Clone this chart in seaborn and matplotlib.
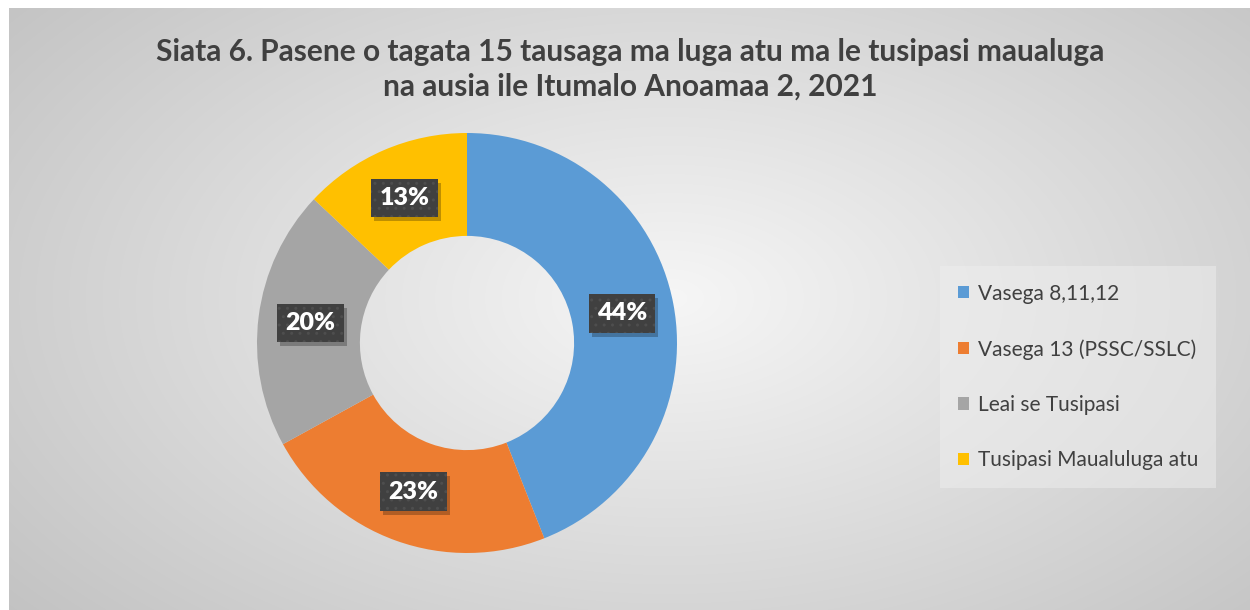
import numpy as np
import matplotlib
matplotlib.use("Agg")
import matplotlib.pyplot as plt
import matplotlib.transforms as mtransforms
from matplotlib.patches import Patch, Rectangle
import seaborn as sns

# data
categories = ["Vasega 8,11,12", "Vasega 13 (PSSC/SSLC)", "Leai se Tusipasi",
              "Tusipasi Maualuluga atu"]
shares = [44, 23, 20, 13]
colors = ["#5B9BD5", "#ED7D31", "#A5A5A5", "#FFC000"]
title = ("Siata 6. Pasene o tagata 15 tausaga ma luga atu ma le tusipasi maualuga\n"
         "na ausia ile Itumalo Anoamaa 2, 2021")

sns.set_theme(style="white")
plt.rcParams["font.family"] = ["Lato", "DejaVu Sans"]

W, H = 1250, 610
fig = plt.figure(figsize=(W / 100, H / 100), dpi=100)
fig.patch.set_facecolor("white")

# radial grey gradient background of the chart area
bg = fig.add_axes([9 / W, 0, 1 - 9 / W, (H - 8) / H])
yy, xx = np.mgrid[0:602, 0:1241]
d = np.sqrt(((xx - 660) / 700.0) ** 2 + ((yy - 290) / 400.0) ** 2)
shade = np.clip(0.965 - 0.165 * d, 0, 1)
bg.imshow(np.dstack([shade] * 3), aspect="auto", interpolation="bilinear")
bg.set_axis_off()

# donut
cx, cy, r = 467, 343, 210
ax = fig.add_axes([(cx - r) / W, (H - cy - r) / H, 2 * r / W, 2 * r / H])
pal = sns.color_palette(colors)
wedges, texts, autotexts = ax.pie(
    shares, colors=pal, startangle=90, counterclock=False,
    autopct="%1.0f%%", pctdistance=0.752,
    wedgeprops=dict(width=0.49, linewidth=0),
)
ax.set_xlim(-1, 1)
ax.set_ylim(-1, 1)
ax.set_aspect("equal")
ax.set_axis_off()

for t in autotexts:
    t.set_color("white")
    t.set_fontsize(18)
    t.set_fontweight("heavy")
    t.set_zorder(5)
    t.set_bbox(dict(boxstyle="square,pad=0.33", facecolor="#404040",
                    edgecolor="#4e4e4e", linewidth=0, hatch=".."))

# soft drop shadow behind each label box
fig.canvas.draw()
for t in autotexts:
    ext = t.get_bbox_patch().get_window_extent()
    ax.add_patch(Rectangle((ext.x0 + 3, ext.y0 - 4), ext.width, ext.height,
                           transform=mtransforms.IdentityTransform(),
                           facecolor="black", alpha=0.25, linewidth=0,
                           zorder=4, clip_on=False))

fig.text(0.504, 1 - 69 / H, title, ha="center", va="center", fontsize=21.5,
         fontweight="bold", color="#404040", linespacing=1.3)

handles = [Patch(facecolor=c, edgecolor="none") for c in colors]
leg = fig.legend(handles, categories, loc="center left",
                 bbox_to_anchor=(940 / W, 1 - 377 / H), frameon=True,
                 fontsize=15, labelspacing=1.7, handlelength=0.55,
                 handleheight=0.55, handletextpad=0.4, borderpad=0.85,
                 borderaxespad=0, fancybox=False)
frame = leg.get_frame()
frame.set_facecolor("#eeeeee")
frame.set_alpha(0.5)
frame.set_edgecolor("none")
for txt in leg.get_texts():
    txt.set_color("#404040")

fig.savefig("out.png", dpi=100)
